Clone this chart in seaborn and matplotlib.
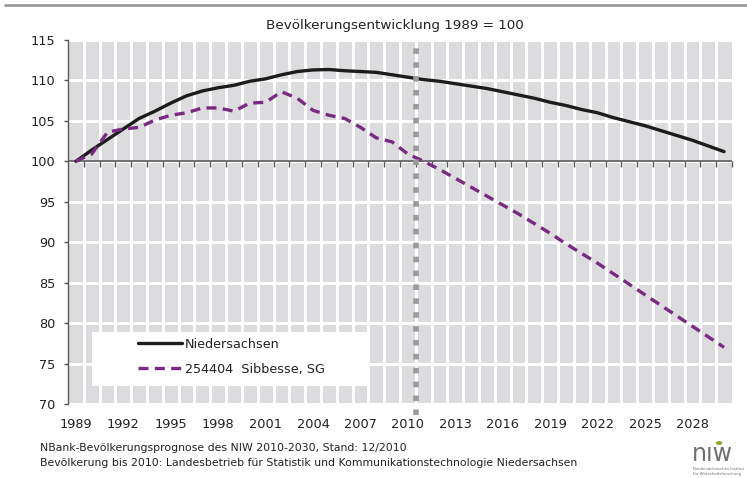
import numpy as np
import pandas as pd
import matplotlib
matplotlib.use("Agg")
import matplotlib.pyplot as plt
from matplotlib.patches import Rectangle, Circle
from matplotlib.lines import Line2D
from matplotlib.markers import TICKDOWN
import seaborn as sns

# ---------------- data ----------------
years = list(range(1989, 2031))
niedersachsen = [100.0, 101.4, 102.7, 104.0, 105.3, 106.2, 107.2, 108.1, 108.7, 109.1,
                 109.4, 109.9, 110.2, 110.7, 111.1, 111.3, 111.35, 111.2, 111.1, 111.0,
                 110.7, 110.4, 110.1, 109.9, 109.6, 109.3, 109.0, 108.6, 108.2, 107.8,
                 107.3, 106.9, 106.4, 106.0, 105.4, 104.9, 104.4, 103.8, 103.2, 102.6,
                 101.9, 101.2]
sibbesse = [100.0, 100.9, 103.6, 104.0, 104.2, 105.1, 105.7, 106.0, 106.6, 106.6,
            106.2, 107.2, 107.3, 108.6, 107.8, 106.3, 105.7, 105.3, 104.2, 102.9,
            102.4, 100.9, 100.0, 99.0, 97.9, 96.8, 95.7, 94.6, 93.5, 92.3,
            91.1, 89.8, 88.6, 87.4, 86.1, 84.8, 83.5, 82.2, 80.9, 79.6,
            78.3, 77.0]
series_names = ["Niedersachsen", "254404  Sibbesse, SG"]
tick_years = list(range(1989, 2029, 3))
y_ticks = list(range(70, 116, 5))
last_observed_year = 2010
base_value = 100
title = "Bevölkerungsentwicklung 1989 = 100"
footer_lines = ["NBank-Bevölkerungsprognose des NIW 2010-2030, Stand: 12/2010",
                "Bevölkerung bis 2010: Landesbetrieb für Statistik und Kommunikationstechnologie Niedersachsen"]

df_n = pd.DataFrame({"year": years, "value": niedersachsen})
df_s = pd.DataFrame({"year": years, "value": sibbesse})

# ---------------- style ----------------
sns.set_style("white")
plt.rcParams["font.family"] = ["DejaVu Sans"]
plt.rcParams["axes.unicode_minus"] = False

W, H = 747, 478
fig = plt.figure(figsize=(W / 100, H / 100), dpi=100)
ax = fig.add_axes([68 / W, 1 - 404 / H, 664 / W, 364 / H])
ax.set_facecolor("#dcdcde")
ax.set_axisbelow(True)

BLACK = "#1c1c1c"
PURPLE = "#7a2a82"
AXC = "#595959"
TXT = "#222222"

sns.lineplot(data=df_n, x="year", y="value", ax=ax, color=BLACK, lw=2.4,
             label=series_names[0], solid_capstyle="round", zorder=3)
sns.lineplot(data=df_s, x="year", y="value", ax=ax, color=PURPLE, lw=2.4,
             linestyle=(0, (3.0, 1.9)), label=series_names[1], zorder=3)

ax.set_xlim(years[0] - 0.5, years[-1] + 0.5)
ax.set_ylim(y_ticks[0], y_ticks[-1])

# grid: white lines at year boundaries and every 5 units
ax.set_xticks(tick_years)
ax.set_xticklabels([str(y) for y in tick_years])
ax.set_xticks(np.arange(years[0] + 0.5, years[-1], 1.0), minor=True)
ax.set_yticks(y_ticks)
ax.grid(False)
ax.grid(which="minor", axis="x", color="white", lw=2.2)
ax.grid(which="major", axis="y", color="white", lw=2.2)

ax.tick_params(axis="x", which="both", length=0, pad=10, labelsize=9.3, labelcolor=TXT)
ax.tick_params(axis="y", which="major", direction="out", length=3, width=1, color=AXC,
               pad=6, labelsize=9.3, labelcolor=TXT, left=True)
for s in ["top", "right", "bottom"]:
    ax.spines[s].set_visible(False)
ax.spines["left"].set_color(AXC)
ax.spines["left"].set_linewidth(1)
ax.set_xlabel("")
ax.set_ylabel("")

# base line (100) with year-boundary tick marks
boundaries = np.arange(years[0] + 0.5, years[-1] + 1, 1.0)
ax.axhline(base_value, color=AXC, lw=1.2, zorder=2.4)
ax.plot(boundaries, [base_value] * len(boundaries), ls="none", marker=TICKDOWN,
        ms=4, mew=1, color=AXC, zorder=2.4, clip_on=False)

# vertical dotted line between observed and projected data
ax.axvline(last_observed_year + 0.5, ymin=-0.03, ymax=0.98, color="#9a9a9a", lw=4,
           linestyle=(0, (1, 1.5)), clip_on=False, zorder=3.5)

# legend with white background box
ax.add_patch(Rectangle((0.036, 0.049), 0.419, 0.149, transform=ax.transAxes,
                       facecolor="white", edgecolor="none", zorder=2.6))
handles, labels = ax.get_legend_handles_labels()
leg = ax.legend(handles[:2], labels[:2], loc="upper left", bbox_to_anchor=(0.106, 0.182),
                frameon=False, fontsize=9.2, handlelength=3.4, handletextpad=0.25,
                labelspacing=0.95, borderpad=0, borderaxespad=0)
leg.set_zorder(5)
for t in leg.get_texts():
    t.set_color(TXT)

# title
fig.text(395 / W, 1 - 25 / H, title, ha="center", va="center", fontsize=9.7, color=TXT)
# top rule
fig.add_artist(Line2D([5 / W, 1.0], [1 - 5 / H, 1 - 5 / H], color="#9a9a9a", lw=2))

# footer
fig.text(40 / W, 1 - 448 / H, footer_lines[0], ha="left", va="center", fontsize=7.8, color=TXT)
fig.text(40 / W, 1 - 463 / H, footer_lines[1], ha="left", va="center", fontsize=7.8, color=TXT)

# logo approximation
fig.text(692 / W, 1 - 461 / H, "nıw", ha="left", va="baseline", fontsize=17,
         color="#707070")
fig.add_artist(Circle((719 / W, 1 - 443 / H), 3.2 / W, transform=fig.transFigure,
                      facecolor="#8aab2e", edgecolor="none"))
fig.text(693 / W, 1 - 468.5 / H, "Niedersächsisches Institut", ha="left", va="center",
         fontsize=2.8, color="#707070")
fig.text(693 / W, 1 - 474 / H, "für Wirtschaftsforschung", ha="left", va="center",
         fontsize=2.8, color="#707070")

fig.savefig("out.png", dpi=100)
